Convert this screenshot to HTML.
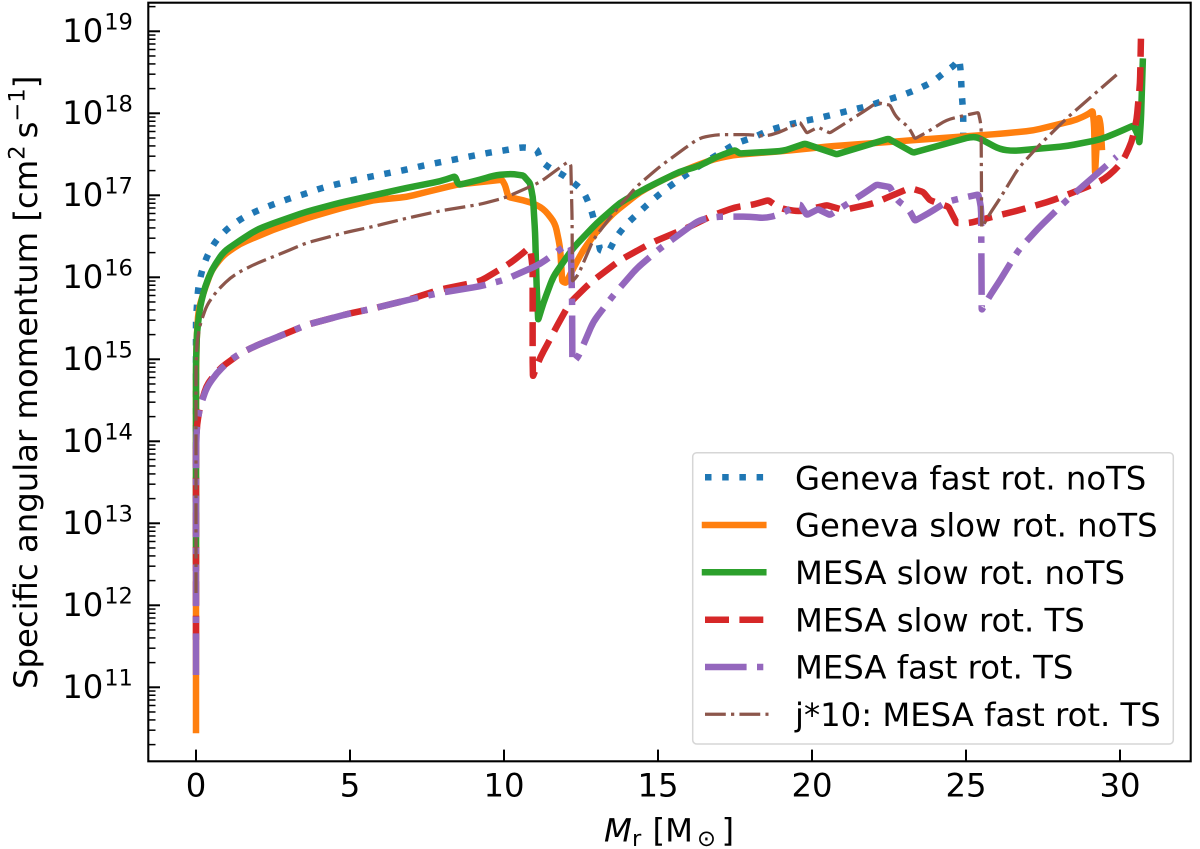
<!DOCTYPE html>
<html lang="en">
<head>
<meta charset="utf-8">
<title>Specific angular momentum profiles</title>
<style>
html,body{margin:0;padding:0;background:#fff;}
svg{display:block;}
text{font-family:"DejaVu Sans","Liberation Sans",sans-serif;fill:#000;}
</style>
</head>
<body>
<svg id="chart" xmlns="http://www.w3.org/2000/svg" width="1200" height="849" viewBox="0 0 1200 849">
  <rect x="0" y="0" width="1200" height="849" fill="#fff"/>
  <g id="series-layer"></g>
  <g id="tick-layer"></g>
  <rect x="148.3" y="2.7" width="1042.4" height="758.6" fill="none" stroke="#000" stroke-width="2.1"/>

  <text transform="translate(37,689) rotate(-90)" font-size="32.3">Specific angular momentum [cm<tspan font-size="22.6" dy="-12.5">2</tspan><tspan dy="12.5" dx="7">s</tspan><tspan font-size="22.6" dy="-12.5">−1</tspan><tspan dy="12.5">]</tspan></text>

  <g>
    <text x="604" y="841.7" font-size="32.3" font-style="italic">M</text>
    <text x="632" y="846" font-size="22.6">r</text>
    <text x="652.5" y="841.7" font-size="32.3">[M</text>
    <text x="697" y="846" font-size="22.6">⊙</text>
    <text x="721.5" y="841.7" font-size="32.3">]</text>
  </g>

  <g>
    <rect x="692.7" y="452.7" width="480.6" height="291.3" rx="4" ry="4" fill="#fff" fill-opacity="0.8" stroke="#ccc" stroke-opacity="0.8" stroke-width="1.5"/>
    <g>
      <line x1="705" x2="763.3" y1="477.3" y2="477.3" stroke="#1f77b4" stroke-width="6.5" stroke-dasharray="6.5 10.7"/>
      <text x="795" y="489.3" font-size="32.3">Geneva fast rot. noTS</text>
    </g>
    <g>
      <line x1="705" x2="763.3" y1="525" y2="525" stroke="#ff7f0e" stroke-width="6.5" stroke-linecap="square"/>
      <text x="795" y="536.7" font-size="32.3">Geneva slow rot. noTS</text>
    </g>
    <g>
      <line x1="705" x2="763.3" y1="572.3" y2="572.3" stroke="#2ca02c" stroke-width="6.5" stroke-linecap="square"/>
      <text x="795" y="584" font-size="32.3">MESA slow rot. noTS</text>
    </g>
    <g>
      <line x1="705" x2="763.3" y1="619.7" y2="619.7" stroke="#d62728" stroke-width="6.5" stroke-dasharray="24 10.4"/>
      <text x="795" y="631.3" font-size="32.3">MESA slow rot. TS</text>
    </g>
    <g>
      <line x1="705" x2="763.3" y1="667" y2="667" stroke="#9467bd" stroke-width="6.5" stroke-dasharray="41.6 10.4 6.5 10.4"/>
      <text x="795" y="678.7" font-size="32.3">MESA fast rot. TS</text>
    </g>
    <g>
      <line x1="705" x2="768.5" y1="714.3" y2="714.3" stroke="#8c564b" stroke-width="3.25" stroke-dasharray="20.8 5.2 3.25 5.2"/>
      <text x="795" y="726" font-size="32.3">j*10: MESA fast rot. TS</text>
    </g>
  </g>
</svg>

<script>
// Axis tick data
const xTickValues = [0, 5, 10, 15, 20, 25, 30];
const yTickExponents = [11, 12, 13, 14, 15, 16, 17, 18, 19];
const yMinorMultipliers = [2, 3, 4, 5, 6, 7, 8, 9];
const yMinorExponents = [10, 11, 12, 13, 14, 15, 16, 17, 18, 19];

// Series data: enclosed mass Mr [Msun] and log10 of specific angular momentum j [cm2/s]
const genevaFastMr = [0,0,0,0.07,0.19,0.37,0.65,1.04,1.49,1.97,2.51,3.03,3.56,4.08,4.63,5.16,5.72,6.24,6.80,7.35,7.89,9.52,10.06,10.63,11.06,11.22,11.53,11.87,12.20,12.56,12.76,12.90,13.12,13.38,13.64,13.98,14.38,14.78,15.20,15.68,16.14,17.07,17.56,18.07,18.58,19.12,19.67,20.20,20.75,21.29,21.83,22.31,22.86,23.40,23.91,24.34,24.64,24.78,24.83,24.86,24.91,24.91];
const genevaFastLogJ = [13.28,14.50,15.48,15.87,16.08,16.27,16.45,16.60,16.72,16.81,16.89,16.96,17.02,17.09,17.14,17.19,17.23,17.27,17.31,17.36,17.40,17.52,17.55,17.59,17.56,17.41,17.32,17.26,17.17,17.06,16.90,16.74,16.33,16.30,16.49,16.65,16.79,16.93,17.06,17.19,17.31,17.53,17.64,17.70,17.79,17.85,17.90,17.94,17.99,18.04,18.09,18.15,18.21,18.29,18.38,18.51,18.59,18.67,18.51,18.25,18.00,17.74];

const genevaSlowMr = [0,0,0,0.02,0.08,0.24,0.51,0.89,1.43,2.51,3.59,4.68,5.75,6.84,7.27,8.46,9.22,9.93,10.03,10.14,10.84,11.28,11.66,11.82,11.89,12.01,12.25,12.57,13.01,13.54,14.42,15.16,16.15,16.80,17.44,19.06,20.68,22.86,25.02,26.10,27.18,28.05,28.59,28.97,29.11,29.16,29.19,29.25,29.32,29.37,29.41];
const genevaSlowLogJ = [10.48,13.28,14.75,15.24,15.60,15.81,16.09,16.27,16.41,16.58,16.72,16.84,16.94,16.98,17.02,17.13,17.16,17.19,17.13,16.98,16.92,16.84,16.66,16.37,15.95,15.93,16.11,16.33,16.56,16.78,17.04,17.19,17.35,17.44,17.49,17.54,17.60,17.66,17.72,17.75,17.79,17.87,17.92,17.99,18.03,17.86,17.27,17.67,17.95,17.86,17.59];

const mesaSlowNoTsMr = [0,0,0,0.03,0.13,0.29,0.51,0.89,1.43,1.97,2.51,3.59,4.68,5.76,6.84,7.92,8.41,8.51,8.57,9.22,9.76,10.29,10.63,10.84,10.94,11.01,11.06,11.11,11.28,11.60,12.25,13.01,13.77,14.63,15.71,16.36,16.91,17.50,17.66,19.06,19.77,20.80,22.48,23.29,25.13,25.36,26.10,26.54,28.27,29.35,29.89,30.43,30.58,30.63,30.68,30.74];
const mesaSlowNoTsLogJ = [12.55,14.35,14.95,15.32,15.64,15.88,16.09,16.31,16.45,16.58,16.66,16.80,16.91,17.00,17.09,17.17,17.23,17.14,17.13,17.19,17.25,17.26,17.24,17.15,16.98,16.54,15.89,15.48,15.69,16.01,16.36,16.66,16.91,17.09,17.29,17.36,17.47,17.55,17.51,17.54,17.63,17.50,17.69,17.52,17.71,17.71,17.56,17.54,17.60,17.68,17.76,17.85,17.74,17.64,17.92,18.63];

const mesaSlowTsMr = [0,0,0,0.03,0.13,0.35,0.78,1.43,1.97,2.83,3.59,4.89,5.76,6.84,7.92,9.22,10.19,10.63,10.84,10.93,10.93,10.94,11.17,11.39,11.71,12.14,12.79,13.77,14.84,15.93,16.80,17.56,18.04,18.58,18.96,19.61,20.48,21.02,21.99,23.18,23.61,23.83,24.43,24.70,25.13,25.67,26.75,27.83,28.92,29.46,29.84,30.11,30.38,30.54,30.65,30.68];
const mesaSlowTsLogJ = [11.58,13.28,13.89,14.20,14.42,14.69,14.89,15.07,15.17,15.30,15.42,15.55,15.62,15.72,15.85,15.95,16.17,16.30,16.37,16.13,14.99,14.79,15.02,15.17,15.40,15.69,15.93,16.21,16.43,16.60,16.76,16.86,16.88,16.94,16.84,16.80,16.88,16.82,16.90,17.09,17.04,16.94,16.86,16.66,16.66,16.72,16.82,16.94,17.10,17.19,17.31,17.43,17.65,17.92,18.37,18.91];

const mesaFastTsMr = [0,0,0,0.03,0.13,0.35,0.67,1.10,1.43,1.97,2.83,3.59,4.89,5.76,6.84,7.92,9.22,10.03,11.17,11.93,12.09,12.17,12.21,12.22,12.41,12.90,13.55,14.31,15.06,16.04,16.36,16.91,17.99,18.47,18.90,19.61,19.83,20.20,20.58,21.67,22.10,22.53,22.75,23.13,23.34,23.78,24.37,24.91,25.40,25.49,25.51,25.78,26.05,26.70,27.35,28.27,28.97,29.89];
const mesaFastTsLogJ = [11.15,13.28,13.89,14.20,14.42,14.66,14.83,14.99,15.07,15.17,15.30,15.42,15.55,15.62,15.72,15.81,15.89,15.97,16.16,16.37,16.41,16.37,15.72,14.95,15.03,15.46,15.78,16.11,16.35,16.62,16.70,16.74,16.74,16.72,16.76,16.89,16.76,16.83,16.76,17.02,17.13,17.10,16.94,16.84,16.69,16.78,16.92,16.97,17.01,16.86,15.60,15.78,15.93,16.33,16.60,16.94,17.17,17.47];

const mesaFastTimesTenMr = [0,0,0,0.03,0.13,0.35,0.67,1.10,1.43,1.97,2.83,3.59,4.89,5.76,6.84,7.92,9.22,10.03,11.17,11.93,12.09,12.17,12.21,12.22,12.41,12.90,13.55,14.31,15.06,16.04,16.36,16.91,17.99,18.47,18.90,19.61,19.83,20.20,20.58,21.67,22.10,22.53,22.75,23.13,23.34,23.78,24.37,24.91,25.40,25.49,25.51,25.78,26.05,26.70,27.35,28.27,28.97,29.89];
const mesaFastTimesTenLogJ = [12.15,14.28,14.89,15.20,15.42,15.66,15.83,15.99,16.07,16.17,16.30,16.42,16.55,16.62,16.72,16.81,16.89,16.97,17.16,17.37,17.41,17.37,16.72,15.95,16.03,16.46,16.78,17.11,17.35,17.62,17.70,17.74,17.74,17.72,17.76,17.89,17.76,17.83,17.76,18.02,18.13,18.10,17.94,17.84,17.69,17.78,17.92,17.97,18.01,17.86,16.60,16.78,16.93,17.33,17.60,17.94,18.17,18.47];

// Axis functions
function xScale(mr) { return 196 + 30.8 * mr; }
function yScale(logJ) { return 687.3 - 82 * (logJ - 11); }

const SVG_NS = 'http://www.w3.org/2000/svg';
const seriesLayer = document.getElementById('series-layer');
const tickLayer = document.getElementById('tick-layer');

// Builds the curve through the scaled points, lightly rounding gentle bends and keeping sharp ones crisp.
function linePath(xs, ys) {
  const px = xs.map(xScale);
  const py = ys.map(yScale);
  let d = 'M' + px[0].toFixed(2) + ' ' + py[0].toFixed(2);
  for (let i = 1; i < px.length - 1; i++) {
    const ax = px[i] - px[i - 1], ay = py[i] - py[i - 1];
    const bx = px[i + 1] - px[i], by = py[i + 1] - py[i];
    const la = Math.hypot(ax, ay), lb = Math.hypot(bx, by);
    if (la < 0.01 || lb < 0.01) {
      d += 'L' + px[i].toFixed(2) + ' ' + py[i].toFixed(2);
      continue;
    }
    const cosTurn = Math.max(-1, Math.min(1, (ax * bx + ay * by) / (la * lb)));
    const turn = Math.acos(cosTurn);
    const limit = turn < 0.5 ? 7 : 1.5;
    const r = Math.min(limit, la / 2, lb / 2);
    const sx = px[i] - ax / la * r, sy = py[i] - ay / la * r;
    const ex = px[i] + bx / lb * r, ey = py[i] + by / lb * r;
    d += 'L' + sx.toFixed(2) + ' ' + sy.toFixed(2);
    d += 'Q' + px[i].toFixed(2) + ' ' + py[i].toFixed(2) + ' ' + ex.toFixed(2) + ' ' + ey.toFixed(2);
  }
  const last = px.length - 1;
  d += 'L' + px[last].toFixed(2) + ' ' + py[last].toFixed(2);
  return d;
}

function drawSeries(name, xs, ys, color, width, dash) {
  const el = document.createElementNS(SVG_NS, 'path');
  
  
  el.setAttribute('d', linePath(xs, ys));
  el.setAttribute('fill', 'none');
  el.setAttribute('stroke', color);
  el.setAttribute('stroke-width', width);
  el.setAttribute('stroke-linejoin', 'round');
  if (dash) {
    el.setAttribute('stroke-dasharray', dash);
  } else {
    el.setAttribute('stroke-linecap', 'square');
  }
  seriesLayer.appendChild(el);
}

drawSeries('series-geneva-fast', genevaFastMr, genevaFastLogJ, '#1f77b4', 6.5, '6.5 10.7');
drawSeries('series-geneva-slow', genevaSlowMr, genevaSlowLogJ, '#ff7f0e', 6.5, null);
drawSeries('series-mesa-slow-nots', mesaSlowNoTsMr, mesaSlowNoTsLogJ, '#2ca02c', 6.5, null);
drawSeries('series-mesa-slow-ts', mesaSlowTsMr, mesaSlowTsLogJ, '#d62728', 6.5, '24 10.4');
drawSeries('series-mesa-fast-ts', mesaFastTsMr, mesaFastTsLogJ, '#9467bd', 6.5, '41.6 10.4 6.5 10.4');
drawSeries('series-mesa-fast-ts-times-ten', mesaFastTimesTenMr, mesaFastTimesTenLogJ, '#8c564b', 3.25, '20.8 5.2 3.25 5.2');

function drawTickLine(name, x1, y1, x2, y2, width) {
  const el = document.createElementNS(SVG_NS, 'line');
  
  
  el.setAttribute('x1', x1);
  el.setAttribute('y1', y1);
  el.setAttribute('x2', x2);
  el.setAttribute('y2', y2);
  el.setAttribute('stroke', '#000');
  el.setAttribute('stroke-width', width);
  tickLayer.appendChild(el);
}

function drawTickText(name, x, y, size, anchor, content) {
  const el = document.createElementNS(SVG_NS, 'text');
  
  
  el.setAttribute('x', x);
  el.setAttribute('y', y);
  el.setAttribute('font-size', size);
  el.setAttribute('text-anchor', anchor);
  el.textContent = content;
  tickLayer.appendChild(el);
}

xTickValues.forEach(function (value) {
  const px = xScale(value);
  drawTickLine('x-tick-' + value, px, 761.3, px, 749.6, 2);
  drawTickText('x-tick-label-' + value, px, 796.7, 32.3, 'middle', String(value));
});

yTickExponents.forEach(function (exponent) {
  const py = yScale(exponent);
  drawTickLine('y-tick-' + exponent, 148.3, py, 160, py, 2);
  drawTickText('y-tick-label-base-' + exponent, 62.2, py + 10.8, 32.3, 'start', '10');
  drawTickText('y-tick-label-exponent-' + exponent, 104.2, py - 1.7, 22.6, 'start', String(exponent));
});

yMinorExponents.forEach(function (exponent) {
  yMinorMultipliers.forEach(function (multiplier) {
    const logValue = exponent + Math.log10(multiplier);
    const py = yScale(logValue);
    if (py > 2.7 && py < 761.3) {
      drawTickLine('y-minor-tick', 148.3, py, 155.5, py, 1.5);
    }
  });
});
</script>
</body>
</html>
